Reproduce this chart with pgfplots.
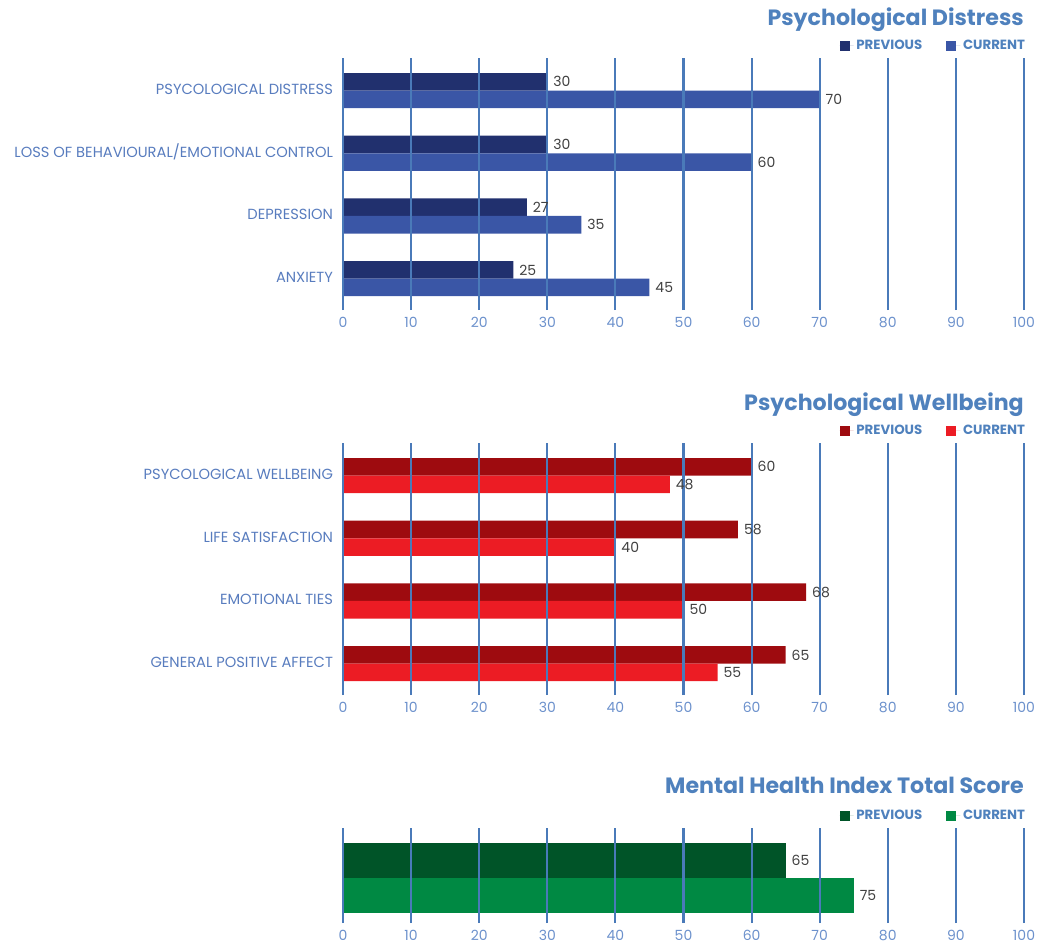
\documentclass[border=0pt]{standalone}
\usepackage{pgfplots}
\pgfplotsset{compat=1.18}
\usepackage{fontspec}
\setmainfont{Poppins}
\definecolor{gridblue}{RGB}{74,122,185}
\definecolor{titleblue}{RGB}{79,129,189}
\definecolor{labelblue}{RGB}{88,124,190}
\definecolor{tickblue}{RGB}{108,145,204}
\definecolor{valgrey}{RGB}{64,64,64}
\definecolor{bprev}{RGB}{33,48,110}
\definecolor{bcur}{RGB}{58,86,166}
\definecolor{rprev}{RGB}{158,11,15}
\definecolor{rcur}{RGB}{236,28,36}
\definecolor{gprev}{RGB}{0,84,40}
\definecolor{gcur}{RGB}{0,137,67}
\tikzset{ttl/.style={anchor=base east, inner sep=0pt, font=\bfseries\fontsize{16.6}{18}\selectfont, text=titleblue}}
\pgfplotsset{
 panel/.style={
  xbar, bar shift=0pt, clip=false,
  width=510.75pt, scale only axis,
  xmin=0, xmax=100, xtick={0,10,...,100},
  xmajorgrids, ymajorgrids=false,
  grid style={gridblue, line width=1.6pt},
  axis line style={draw=none},
  major tick length=0pt,
  axis on top,
  /pgf/number format/assume math mode=true,
  xticklabel style={font=\fontsize{10.5}{12}\selectfont, text=tickblue, yshift=-2pt},
  yticklabel style={font=\fontsize{11}{13}\selectfont, text=labelblue, xshift=-4pt, yshift=1pt},
  nodes near coords,
  nodes near coords style={font=\fontsize{10.5}{12}\selectfont, text=valgrey, xshift=1pt},
  every axis plot/.append style={draw=none},
  legend columns=2,
  legend style={draw=none, fill=none, at={(1,1)}, anchor=south east, yshift=2.5pt, xshift=3pt,
    inner sep=0pt, font=\bfseries\fontsize{10}{12}\selectfont, text=titleblue,
    /tikz/every even column/.append style={column sep=16pt}},
  legend image code/.code={\path (0pt,0pt) -- (10.5pt,0pt);\fill[##1] (0pt,-3.75pt) rectangle (7.5pt,3.75pt);},
 },
}
\begin{document}
\begin{tikzpicture}
\useasboundingbox (0,0) rectangle (779.25pt,-708pt);
% Panel 1
\begin{axis}[panel, at={(257.25pt,-43.5pt)}, anchor=north west,
  height=189pt, ymin=-0.5, ymax=3.52, bar width=0.28,
  ytick={0,1,2,3},
  yticklabels={ANXIETY,DEPRESSION,LOSS OF BEHAVIOURAL/EMOTIONAL CONTROL,PSYCOLOGICAL DISTRESS}]
\addplot[fill=bprev] coordinates {(25,0.14) (27,1.14) (30,2.14) (30,3.14)};
\addplot[fill=bcur] coordinates {(45,-0.14) (35,0.86) (60,1.86) (70,2.86)};
\legend{PREVIOUS,CURRENT}
\node[ttl] at (rel axis cs:1,1) [yshift=24pt] {Psychological Distress};
\end{axis}
% Panel 2
\begin{axis}[panel, at={(257.25pt,-332.25pt)}, anchor=north west,
  height=189pt, ymin=-0.5, ymax=3.52, bar width=0.28,
  ytick={0,1,2,3},
  yticklabels={GENERAL POSITIVE AFFECT,EMOTIONAL TIES,LIFE SATISFACTION,PSYCOLOGICAL WELLBEING}]
\addplot[fill=rprev] coordinates {(65,0.14) (68,1.14) (58,2.14) (60,3.14)};
\addplot[fill=rcur] coordinates {(55,-0.14) (50,0.86) (40,1.86) (48,2.86)};
\legend{PREVIOUS,CURRENT}
\node[ttl] at (rel axis cs:1,1) [yshift=24pt] {Psychological Wellbeing};
\end{axis}
% Panel 3
\begin{axis}[panel, at={(257.25pt,-621pt)}, anchor=north west,
  height=71.25pt, ymin=-0.45, ymax=0.5, bar width=0.35,
  ytick=\empty]
\addplot[fill=gprev] coordinates {(65,0.175)};
\addplot[fill=gcur] coordinates {(75,-0.175)};
\legend{PREVIOUS,CURRENT}
\node[ttl] at (rel axis cs:1,1) [yshift=26pt] {Mental Health Index Total Score};
\end{axis}
\end{tikzpicture}
\end{document}
